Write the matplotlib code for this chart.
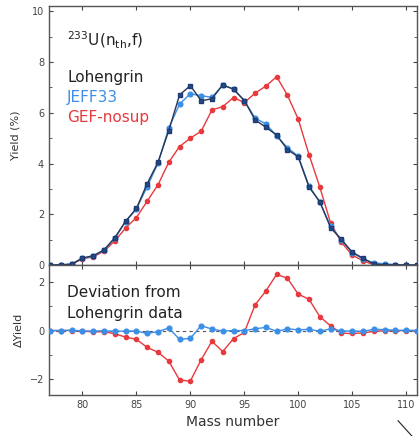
import numpy as np
import matplotlib.pyplot as plt
from matplotlib.lines import Line2D
from matplotlib.ticker import MultipleLocator

# Mass chain yields for 233U(nth,f), light fragment peak
mass = np.arange(77, 112)

lohengrin = [0.00, 0.01, 0.03, 0.28, 0.37, 0.60, 1.08, 1.73, 2.23, 3.21,
             4.05, 5.30, 6.70, 7.07, 6.47, 6.55, 7.10, 6.93, 6.48, 5.72,
             5.43, 5.12, 4.55, 4.26, 3.07, 2.50, 1.47, 1.01, 0.51, 0.27,
             0.04, 0.01, 0.01, 0.00, 0.00]
jeff33 = [0.00, 0.01, 0.05, 0.26, 0.35, 0.59, 1.05, 1.71, 2.21, 3.09,
          4.01, 5.40, 6.34, 6.75, 6.67, 6.61, 7.08, 6.93, 6.48, 5.79,
          5.56, 5.09, 4.62, 4.29, 3.12, 2.47, 1.54, 0.99, 0.49, 0.24,
          0.09, 0.05, 0.02, 0.01, 0.00]
gef_nosup = [0.00, 0.01, 0.03, 0.25, 0.32, 0.55, 0.95, 1.46, 1.87, 2.52,
             3.16, 4.05, 4.67, 5.00, 5.27, 6.11, 6.24, 6.60, 6.40, 6.77,
             7.05, 7.42, 6.69, 5.75, 4.35, 3.07, 1.66, 0.90, 0.39, 0.17,
             0.01, 0.00, 0.00, 0.00, 0.00]

lohengrin = np.array(lohengrin)
jeff33 = np.array(jeff33)
gef_nosup = np.array(gef_nosup)

# deviations from the measured data
d_jeff = jeff33 - lohengrin
d_gef = gef_nosup - lohengrin

c_blue = '#3b8fe6'
c_navy = '#1f3c72'
c_red = '#e8393d'

fig = plt.figure(figsize=(4.19, 4.36), dpi=100)
ax1 = fig.add_axes([0.117, 0.392, 0.878, 0.594])
ax2 = fig.add_axes([0.117, 0.094, 0.878, 0.298])

ax1.plot(mass, gef_nosup, '-o', color=c_red, lw=1, ms=3, zorder=2)
ax1.plot(mass, jeff33, '-o', color=c_blue, lw=1, ms=3.4, zorder=3)
ax1.plot(mass, lohengrin, '-s', color='#2a3550', lw=1, ms=2.8,
         mfc='#244a8a', mec=c_navy, zorder=4)

ax2.axhline(0, color='#555555', lw=0.8, ls=(0, (3, 3)), zorder=1)
ax2.plot(mass, d_gef, '-o', color=c_red, lw=1, ms=3, zorder=2)
ax2.plot(mass, d_jeff, '-o', color=c_blue, lw=1, ms=3.4, zorder=3)

for ax in (ax1, ax2):
    ax.set_xlim(76.9, 111.0)
    ax.xaxis.set_major_locator(MultipleLocator(5))
    ax.tick_params(which='both', direction='in', top=True, right=True,
                   labelsize=7, colors='#444444', length=3)
    ax.tick_params(which='minor', length=2)
    for s in ax.spines.values():
        s.set_color('#555555')
        s.set_linewidth(1)

ax1.set_ylim(0, 10.2)
ax1.yaxis.set_major_locator(MultipleLocator(2))
ax1.yaxis.set_minor_locator(MultipleLocator(1))
ax1.tick_params(labelbottom=False)
ax1.set_ylabel('Yield (%)', fontsize=8, color='#333333', labelpad=8)

ax2.set_ylim(-2.64, 2.68)
ax2.yaxis.set_major_locator(MultipleLocator(2))
ax2.yaxis.set_minor_locator(MultipleLocator(1))
ax2.set_xlabel('Mass number', fontsize=10, color='#333333')
ax2.set_ylabel('ΔYield', fontsize=8, color='#333333')
fig.align_ylabels([ax1, ax2])

ax1.text(0.049, 0.869, r'$^{233}$U(n$_{\rm th}$,f)', transform=ax1.transAxes,
         fontsize=11, va='center', color='#222222')
ax1.text(0.049, 0.726, 'Lohengrin', transform=ax1.transAxes,
         fontsize=11, va='center', color='#222222')
ax1.text(0.049, 0.649, 'JEFF33', transform=ax1.transAxes,
         fontsize=11, va='center', color=c_blue)
ax1.text(0.049, 0.568, 'GEF-nosup', transform=ax1.transAxes,
         fontsize=11, va='center', color=c_red)

ax2.text(0.049, 0.79, 'Deviation from', transform=ax2.transAxes,
         fontsize=11, va='center', color='#222222')
ax2.text(0.049, 0.63, 'Lohengrin data', transform=ax2.transAxes,
         fontsize=11, va='center', color='#222222')

# small pointer stroke below the axis
fig.add_artist(Line2D([0.950, 0.983], [0.035, 0.0], color='#222222', lw=0.8))

fig.savefig('out.png', dpi=100)
